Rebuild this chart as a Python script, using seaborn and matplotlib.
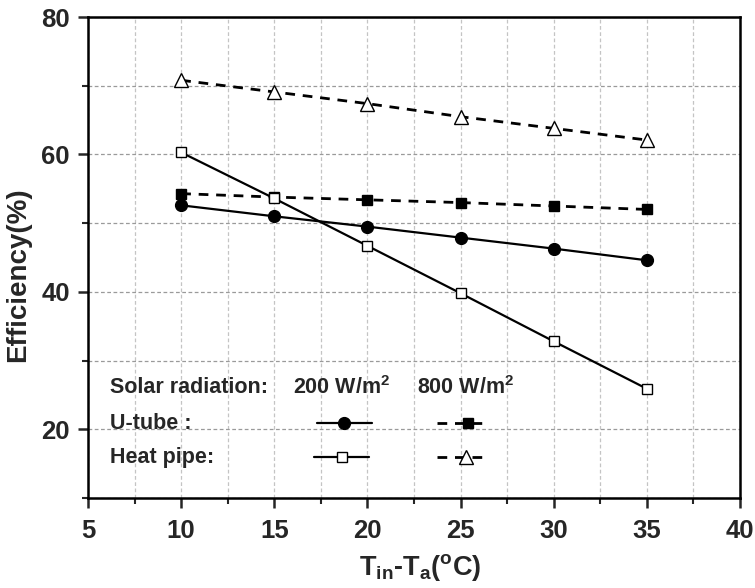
import numpy as np
import pandas as pd
import matplotlib
matplotlib.use("Agg")
import matplotlib.pyplot as plt
from matplotlib.lines import Line2D
from matplotlib.ticker import MultipleLocator
import seaborn as sns

# ---- data ----
temp_diff = [10, 15, 20, 25, 30, 35]
utube_200 = [52.6, 51.0, 49.5, 47.9, 46.3, 44.6]
utube_800 = [54.3, 53.8, 53.4, 53.0, 52.5, 52.0]
heatpipe_200 = [60.3, 53.6, 46.7, 39.8, 32.8, 25.9]
heatpipe_800 = [70.8, 69.1, 67.4, 65.5, 63.8, 62.1]
x_ticks = [5, 10, 15, 20, 25, 30, 35, 40]
y_ticks = [20, 40, 60, 80]

sns.set_style("white")
plt.rcParams['font.family'] = ['Liberation Sans', 'DejaVu Sans']
plt.rcParams['font.weight'] = 'bold'
plt.rcParams['mathtext.fontset'] = 'custom'
plt.rcParams['mathtext.rm'] = 'Liberation Sans:bold'
plt.rcParams['mathtext.it'] = 'Liberation Sans:bold'
plt.rcParams['mathtext.bf'] = 'Liberation Sans:bold'
plt.rcParams['mathtext.sf'] = 'Liberation Sans:bold'
plt.rcParams['mathtext.default'] = 'bf'

fig = plt.figure(figsize=(7.55, 5.88), dpi=100)
ax = fig.add_axes([0.1166, 0.153, 0.8636, 0.818])

series = [
    (utube_200, dict(marker='o', markersize=8.5, markerfacecolor='black', linestyle='-', lw=1.6)),
    (utube_800, dict(marker='s', markersize=7, markerfacecolor='black', linestyle=(0, (3.5, 2.8)), lw=2.0)),
    (heatpipe_200, dict(marker='s', markersize=7, markerfacecolor='white', linestyle='-', lw=1.6)),
    (heatpipe_800, dict(marker='^', markersize=10, markerfacecolor='white', linestyle=(0, (3.5, 2.8)), lw=2.0)),
]
for vals, kw in series:
    df = pd.DataFrame({'x': temp_diff, 'y': vals})
    sns.lineplot(data=df, x='x', y='y', ax=ax, color='black', markeredgecolor='black',
                 markeredgewidth=1.0, zorder=3, **kw)

ax.set_xlim(5, 40)
ax.set_ylim(10, 80)
ax.set_xticks(x_ticks)
ax.set_yticks(y_ticks)
ax.xaxis.set_minor_locator(MultipleLocator(2.5))
ax.yaxis.set_minor_locator(MultipleLocator(10))

ax.grid(True, which='both', axis='x', color='#c4c4c4', linestyle=(0, (3, 2)), lw=0.9)
ax.grid(True, which='both', axis='y', color='#9a9a9a', linestyle=(0, (3, 2)), lw=0.9)
ax.set_axisbelow(True)

for s in ax.spines.values():
    s.set_visible(True)
    s.set_color('black')
    s.set_linewidth(1.8)

ax.tick_params(axis='both', which='major', direction='out', length=7, width=1.8,
               labelsize=18.5, bottom=True, left=True)
ax.tick_params(axis='x', which='major', pad=8)
ax.tick_params(axis='y', which='major', pad=6)
ax.tick_params(axis='both', which='minor', direction='out', length=4, width=1.5,
               bottom=True, left=True)
for lab in ax.get_xticklabels() + ax.get_yticklabels():
    lab.set_fontweight('bold')

ax.set_xlabel(r'T$_{in}$-T$_{a}$($^{o}$C)', fontsize=19.5, fontweight='bold')
ax.set_ylabel('Efficiency(%)', fontsize=20, fontweight='bold')
ax.xaxis.set_label_coords(0.509, -0.112)
ax.yaxis.set_label_coords(-0.088, 0.464)

# ---- custom legend (axes fraction coords) ----
tf = ax.transAxes
fs = 15.5
ax.text(0.034, 0.229, 'Solar radiation:', transform=tf, fontsize=fs, fontweight='bold', va='center')
ax.text(0.314, 0.229, r'200 W/m$^{2}$', transform=tf, fontsize=fs, fontweight='bold', va='center')
ax.text(0.505, 0.229, r'800 W/m$^{2}$', transform=tf, fontsize=fs, fontweight='bold', va='center')
ax.text(0.034, 0.156, 'U-tube :', transform=tf, fontsize=fs, fontweight='bold', va='center')
ax.text(0.034, 0.085, 'Heat pipe:', transform=tf, fontsize=fs, fontweight='bold', va='center')

def handle(x0, x1, xm, y, kw):
    ax.add_line(Line2D([x0, x1], [y, y], transform=tf, color='black',
                       linestyle=kw['linestyle'], lw=kw['lw'], zorder=4))
    ax.add_line(Line2D([xm], [y], transform=tf, color='black', marker=kw['marker'],
                       markersize=kw['markersize'], markerfacecolor=kw['markerfacecolor'],
                       markeredgecolor='black', markeredgewidth=1.0, linestyle='none', zorder=5))

handle(0.351, 0.436, 0.393, 0.156, series[0][1])
handle(0.535, 0.612, 0.583, 0.156, series[1][1])
handle(0.347, 0.431, 0.389, 0.085, series[2][1])
handle(0.535, 0.612, 0.579, 0.085, series[3][1])

fig.savefig('out.png', dpi=100)
